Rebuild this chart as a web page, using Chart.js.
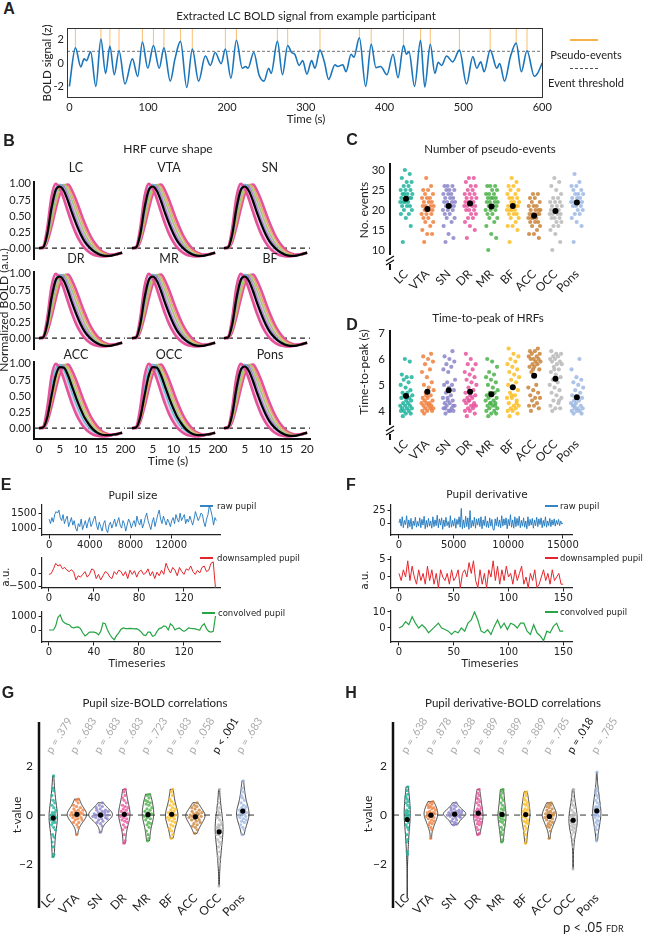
<!DOCTYPE html>
<html><head><meta charset="utf-8"><title>LC BOLD figure</title>
<script src="https://cdn.jsdelivr.net/npm/chart.js@4.4.1/dist/chart.umd.min.js"></script>
<style>
html,body{margin:0;padding:0;background:#fff}
body{position:relative;width:648px;height:937px;overflow:hidden}
canvas{position:absolute}
.t{position:absolute;white-space:nowrap;line-height:1;color:#222}
.seg{position:absolute;height:0}
</style></head><body>
<script>
// ================= DATA =================
const REGIONS = ['LC','VTA','SN','DR','MR','BF','ACC','OCC','Pons'];
const COLORS = ['#1db39c','#f07f3c','#8b85c9','#e8559e','#4cb24a','#fcbd22','#c9843a','#b9b9b9','#9db8e4'];

// Panel A: LC BOLD signal (time in s, z)
const A_TIME = [0,7.7,14.5,18.7,21.7,27,33.6,40,46,51.4,57,63,70.6,80,86.7,92.7,99.5,106.7,114,120,128,134,141,149,156,164,172.5,179,185,192.6,198,205,212,219.4,223.6,226.6,234,240.6,247,253,256,264,270.4,277,282,286,291.6,296,301.4,307.4,311.6,318,323.5,329,337,340.5,347,351,357.5,361,368,376,383,389,395,403,410.7,417,424,427.7,431,438,445.6,451,458,463.8,468,472.3,478.7,486.4,495,504,511.9,517,522,526.3,534,542.5,546,552.2,559.5,567,573.5,580.7,590,594,600];
const A_Z = [-2.0,1.3,-0.33,0.35,0.2,0.95,-2.0,2.05,-0.9,1.45,-1.0,1.05,-1.8,0.35,-1.15,1.8,-0.45,1.5,-0.45,1.3,-1.55,0.35,1.85,-2.1,1.2,-1.55,0.6,-0.2,0.9,-0.05,1.2,-1.3,1.95,-0.45,-0.3,-0.45,0.9,-1.0,-1.55,-0.45,-0.9,1.85,-1.0,1.5,0.9,0.75,-0.2,0.2,-0.95,0.2,-0.45,1.1,0.1,-1.4,-0.15,-0.3,-0.15,-0.75,0.75,0.5,2.15,-2.0,1.6,-0.4,-0.3,-1.0,0.75,-1.25,1.5,0.75,0.95,-2.0,1.95,-2.05,1.6,-0.9,0.05,-0.2,0.6,0.1,1.1,-1.8,0.55,-0.45,0.1,-0.75,1.1,-0.45,-0.05,-1.55,0.5,1.7,-0.75,1.05,-1.15,-0.9,0.0];
const EVENT_TIME = [7.7,40,51.4,63,92.7,106.7,120,141,156,198,212,264,277,318,368,383,424,445.6,458,495,534,567,580.7];
const EVENT_PEAK = [1.3,2.05,1.45,1.05,1.8,1.5,1.3,1.85,1.2,1.2,1.95,1.85,1.5,1.1,2.15,1.6,1.5,1.95,1.6,1.1,1.1,1.7,1.05];
const THRESHOLD = 1;

// Panel B: HRF curves sampled each second
const HRF_T = [0,1,2,3,4,5,6,7,8,9,10,11,12,13,14,15,16,17,18,19,20];
const HRF_EARLY = [0,0.02,0.32,0.80,1.00,0.93,0.76,0.56,0.37,0.21,0.09,0.0,-0.06,-0.10,-0.12,-0.13,-0.13,-0.12,-0.10,-0.09,-0.07];
const HRF_MID_EARLY = [0,0.01,0.22,0.62,0.92,0.99,0.90,0.73,0.54,0.36,0.21,0.09,0.01,-0.05,-0.09,-0.11,-0.12,-0.12,-0.11,-0.09,-0.07];
const HRF_MID = [0,0.01,0.18,0.53,0.85,0.99,0.96,0.82,0.63,0.45,0.29,0.16,0.06,-0.02,-0.07,-0.10,-0.12,-0.12,-0.11,-0.09,-0.07];
const HRF_MID_LATE = [0,0.01,0.15,0.45,0.76,0.95,0.99,0.89,0.73,0.55,0.38,0.23,0.11,0.02,-0.05,-0.09,-0.11,-0.12,-0.11,-0.10,-0.08];
const HRF_LATE_2 = [0,0.0,0.12,0.38,0.67,0.89,0.99,0.95,0.81,0.64,0.47,0.31,0.18,0.07,-0.01,-0.06,-0.09,-0.11,-0.11,-0.10,-0.08];
const HRF_LATE = [0,0.0,0.10,0.33,0.60,0.84,0.97,0.99,0.89,0.74,0.56,0.39,0.24,0.12,0.03,-0.04,-0.08,-0.10,-0.10,-0.09,-0.08];
const HRF_MEAN_A = [0,0.01,0.22,0.62,0.90,0.96,0.89,0.73,0.54,0.37,0.22,0.10,0.02,-0.04,-0.08,-0.11,-0.12,-0.12,-0.11,-0.09,-0.07];
const HRF_MEAN_B = [0,0.01,0.17,0.50,0.81,0.95,0.94,0.82,0.64,0.46,0.30,0.16,0.06,-0.02,-0.07,-0.10,-0.11,-0.11,-0.10,-0.09,-0.07];
const HRF_MEAN_KIND = ['A','A','A','A','A','A','B','B','A'];

// Panel C: number of pseudo-events
const NEV_LC = [12,16,18,19,19,20,20,21,21,21,22,22,22,22,23,23,23,23,24,24,24,24,25,25,25,26,26,27,27,28,29,30];
const NEV_VTA = [12,14,14,15,16,17,17,18,18,19,19,19,20,20,20,20,21,21,21,21,22,22,22,23,23,23,24,24,25,25,26,28];
const NEV_SN = [12,13,14,16,17,18,18,19,19,20,20,20,21,21,21,21,22,22,22,22,23,23,23,24,24,24,25,25,25,26,26,26];
const NEV_DR = [13,15,16,17,18,18,19,19,20,20,20,21,21,21,21,22,22,22,22,23,23,23,24,24,24,25,25,26,26,27,28,28];
const NEV_MR = [10,13,14,16,17,18,18,19,19,20,20,20,21,21,21,21,22,22,22,22,23,23,23,23,24,24,24,25,25,26,26,26];
const NEV_BF = [12,15,16,16,17,18,18,19,19,19,20,20,20,20,21,21,21,21,22,22,22,23,23,23,24,24,25,25,26,26,27,28];
const NEV_ACC = [8,13,14,14,15,16,16,17,17,17,18,18,18,18,19,19,19,19,19,20,20,20,20,21,21,21,22,22,23,23,24,24];
const NEV_OCC = [10,12,14,15,16,16,17,17,18,18,18,19,19,19,19,20,20,20,20,21,21,21,22,22,22,23,23,24,25,26,27,28];
const NEV_PONS = [12,16,17,18,19,19,20,20,21,21,21,22,22,22,22,23,23,23,24,24,24,25,25,26,26,27,29];

// Panel D: time-to-peak (s)
const TTP_LC = [3.8,3.9,3.9,4.0,4.0,4.0,4.1,4.1,4.1,4.2,4.2,4.2,4.3,4.3,4.4,4.4,4.5,4.5,4.6,4.6,4.7,4.7,4.8,4.9,5.0,5.1,5.2,5.3,5.3,5.4,5.9,6.0];
const TTP_VTA = [3.9,4.0,4.0,4.0,4.1,4.1,4.1,4.2,4.2,4.2,4.3,4.3,4.3,4.4,4.4,4.5,4.5,4.6,4.7,4.8,4.9,5.0,5.1,5.3,5.5,5.6,5.8,5.9,6.0,6.1,6.2,4.6];
const TTP_SN = [3.9,4.0,4.0,4.1,4.1,4.2,4.2,4.3,4.3,4.4,4.4,4.5,4.6,4.7,4.8,4.9,5.0,5.0,5.1,5.2,4.0,4.1,4.2,5.5,5.6,5.7,5.8,5.9,6.0,6.1,6.3,4.5];
const TTP_DR = [3.8,3.9,4.0,4.0,4.1,4.1,4.2,4.2,4.3,4.3,4.4,4.4,4.5,4.5,4.6,4.6,4.7,4.8,4.9,5.0,5.1,5.2,5.3,5.4,5.5,5.6,5.8,5.8,6.0,6.2,4.2,4.4];
const TTP_MR = [3.8,3.9,3.9,4.0,4.0,4.1,4.1,4.2,4.2,4.3,4.3,4.4,4.4,4.5,4.5,4.6,4.6,4.7,4.7,4.8,4.9,5.0,5.1,5.2,5.3,5.4,5.5,5.7,5.9,6.0,4.2,4.3];
const TTP_BF = [3.8,3.9,4.0,4.0,4.1,4.1,4.2,4.2,4.3,4.4,4.5,4.5,4.6,4.7,4.8,4.9,5.0,5.1,5.2,5.3,5.4,5.5,5.6,5.7,5.8,5.9,6.0,6.1,6.2,6.4,4.3,4.6];
const TTP_ACC = [4.0,4.1,4.2,4.2,4.3,4.4,4.5,4.5,4.6,4.7,4.8,4.9,5.0,5.5,5.6,5.7,5.7,5.8,5.8,5.9,5.9,6.0,6.0,6.0,6.1,6.1,6.2,6.2,6.3,6.3,6.4,5.6];
const TTP_OCC = [4.0,4.1,4.1,4.2,4.3,4.4,4.5,4.6,4.7,4.8,4.9,5.0,5.1,5.2,5.3,5.4,5.5,5.6,5.7,5.8,5.8,5.9,5.9,6.0,6.0,6.1,6.1,6.2,6.2,6.3,4.4,5.6];
const TTP_PONS = [3.9,3.9,4.0,4.0,4.0,4.1,4.1,4.1,4.2,4.2,4.3,4.3,4.4,4.4,4.5,4.5,4.6,4.7,4.8,4.9,5.0,5.1,5.2,5.3,5.6,6.0,4.2];

// Panel E: pupil size
const E_RAW_STEP = 137;
const E_RAW = [1300,1150,1350,1200,1450,1550,1500,1600,1350,1250,1450,1150,1300,1400,1050,1200,1350,1100,1250,1000,900,1150,1050,1300,950,1100,1250,1000,1200,1350,1050,1150,1300,1400,1100,950,1200,1050,900,1150,1250,950,850,1100,1200,1000,1150,1300,1050,1200,1350,1100,1000,1250,1150,900,1100,1300,1200,1000,1150,1250,1050,1400,1200,1100,1300,1000,1150,1350,1500,1250,1100,950,1200,1350,1050,1250,1450,1600,1300,1150,1400,1250,1100,1300,1200,1050,1250,1350,1150,1450,1300,1200,1500,1250,1350,1450,1150,1300,1200,1400,1250,1100,1300,1550,1400,1250,1350,1500,1450,1200,1050,1300,1450,1750,1600,1400,1100,1350,1250];
const E_DOWN = [-50,-20,150,350,250,300,150,200,100,50,120,30,-250,-100,-150,-50,50,-150,-50,150,100,-200,-50,-250,-100,50,0,-150,-200,50,-50,100,50,-100,50,-200,100,-50,80,-150,50,100,-50,0,150,-100,50,-200,30,-100,100,-50,350,150,0,200,100,-100,200,50,-50,150,100,250,50,-50,100,0,200,250,50,100,350,400,-550];
const E_CONV = [0,0,0,300,900,1080,650,500,420,380,200,150,200,220,100,-200,-420,-300,-150,-150,-150,-200,-350,-100,500,450,0,-300,-550,-700,-400,-200,50,150,100,100,120,100,80,100,0,-150,-350,-400,-150,-150,-450,-400,-100,100,150,300,250,0,450,300,0,100,150,0,-100,0,150,120,100,80,30,0,300,450,100,-100,-150,-100,1000];
const E_DS_STEP = 2;

// Panel F: pupil derivative
const F_RAW_STEP = 100;
const F_RAW = [0,8,-6,12,-9,5,-3,14,-10,6,-7,9,-12,4,-5,11,-8,3,-6,10,-9,7,-4,13,-11,5,-8,9,-6,4,-10,12,-7,6,-5,15,-9,8,-4,10,-12,6,-7,11,-5,3,-9,14,-8,5,-6,9,-10,7,-3,12,-8,28,-11,6,-9,13,-7,10,-12,24,-9,5,-6,11,-10,8,-4,9,-7,12,-11,6,-5,13,-8,4,-9,10,-6,7,-12,-14,8,-5,11,-7,6,-9,14,-6,8,-4,10,-11,7,-5,16,-8,6,-10,12,-7,9,-5,13,-9,5,-6,10,-8,4,-11,12,-6,7,-4,9,-10,6,-5,11,-7,8,-3,10,-9,5,-6,12,-8,4,-5,9,-7,6,-4,8,-6,5,-3,7,-5,4,-2,0];
const F_DOWN = [1,-1,2,0,4.5,-1,3,0,-2,2,-1,1,-2,3,-1,2,-2,1,-3,2,0,-1,1,-2,2,-1,0,2,-3,1,2,0,4,1,4.5,-1,-3,2,-2,1,-3,2,0,4.5,-1,3,-2,2,-1,3,0,1,-2,2,-1,1,3,-2,0,-3,1,-1,2,-3,-2,0,2,-1,1,-2,2,-1,0,1,-2,-2];
const F_DS_STEP = 2;
const F_CONV = [0,1,4,2,7,3,0,2,0,-3,-1,1,3,0,-1,-2,-4,-2,-3,0,-2,3,5,10,5,-2,-3,-1,-4,1,5,0,3,-1,3,2,0,3,3,-2,-4,2,-3,-5,-8,-2,-3,1,3,-2,-2];
const F_CONV_STEP = 3;

// Panel G: pupil size-BOLD t-values
const TS_LC = [-1.7,-1.6,-1.3,-1.1,-0.9,-0.8,-0.6,-0.5,-0.4,-0.3,-0.3,-0.2,-0.2,-0.1,-0.1,0.0,0.0,0.1,0.1,0.2,0.3,0.4,0.5,0.6,0.8,1.0,1.1,1.6];
const TS_VTA = [-0.8,-0.5,-0.4,-0.3,-0.3,-0.2,-0.2,-0.15,-0.1,-0.1,-0.05,0,0,0,0.05,0.05,0.1,0.1,0.15,0.2,0.2,0.25,0.3,0.35,0.4,0.5,0.6,0.65];
const TS_SN = [-0.7,-0.45,-0.35,-0.3,-0.25,-0.2,-0.15,-0.15,-0.1,-0.1,-0.05,-0.05,0,0,0,0.05,0.05,0.1,0.1,0.15,0.15,0.2,0.2,0.25,0.3,0.35,0.4,0.5];
const TS_DR = [-1.15,-1.05,-0.8,-0.6,-0.5,-0.4,-0.3,-0.25,-0.2,-0.15,-0.1,-0.05,0,0,0.05,0.1,0.15,0.2,0.25,0.3,0.35,0.4,0.5,0.6,0.7,0.8,0.95,1.05];
const TS_MR = [-1.05,-0.95,-0.8,-0.65,-0.5,-0.4,-0.35,-0.3,-0.2,-0.15,-0.1,-0.05,0,0,0.05,0.1,0.15,0.2,0.25,0.3,0.4,0.45,0.5,0.55,0.6,0.7,0.8,0.85];
const TS_BF = [-0.95,-0.8,-0.65,-0.55,-0.45,-0.4,-0.3,-0.25,-0.2,-0.15,-0.1,-0.1,-0.05,0,0,0.05,0.1,0.15,0.2,0.25,0.3,0.4,0.45,0.55,0.65,0.8,0.95,1.05];
const TS_ACC = [-0.75,-0.6,-0.5,-0.45,-0.4,-0.35,-0.3,-0.25,-0.2,-0.2,-0.15,-0.1,-0.1,-0.05,-0.05,0,0,0.05,0.05,0.1,0.1,0.15,0.2,0.25,0.3,0.35,0.4,0.5];
const TS_OCC = [-2.9,-2.0,-1.8,-1.7,-1.5,-1.3,-1.2,-1.1,-1.0,-0.9,-0.8,-0.8,-0.7,-0.6,-0.6,-0.5,-0.5,-0.4,-0.4,-0.3,-0.2,-0.1,0,0.1,0.2,0.3,0.5,1.05];
const TS_PONS = [-0.8,-0.6,-0.5,-0.4,-0.3,-0.25,-0.2,-0.15,-0.1,-0.05,0,0,0.05,0.1,0.1,0.15,0.2,0.25,0.3,0.35,0.4,0.5,0.6,0.7,0.8,0.95,1.1,1.4];
const P_SIZE = ['p = .379','p = .683','p = .683','p = .683','p = .723','p = .683','p = .058','p < .001','p = .683'];
const P_SIZE_SIG = [false,false,false,false,false,false,false,true,false];

// Panel H: pupil derivative-BOLD t-values
const TD_LC = [-3.4,-1.6,-1.5,-1.1,-1.0,-0.8,-0.6,-0.5,-0.4,-0.3,-0.2,-0.15,-0.1,-0.05,0,0.05,0.1,0.15,0.2,0.3,0.4,0.5,0.55,0.65,0.75,0.85,1.0,1.15];
const TD_VTA = [-0.95,-0.6,-0.5,-0.4,-0.35,-0.3,-0.25,-0.2,-0.15,-0.1,-0.05,-0.05,0,0,0.05,0.05,0.1,0.1,0.15,0.2,0.25,0.3,0.3,0.35,0.4,0.45,0.5,0.55];
const TD_SN = [-0.4,-0.35,-0.3,-0.25,-0.2,-0.15,-0.1,-0.1,-0.05,-0.05,0,0,0,0.05,0.05,0.05,0.1,0.1,0.1,0.15,0.15,0.2,0.2,0.25,0.3,0.35,0.4,0.5];
const TD_DR = [-0.8,-0.75,-0.6,-0.5,-0.4,-0.35,-0.3,-0.25,-0.2,-0.15,-0.1,-0.05,0,0,0.05,0.1,0.15,0.2,0.25,0.3,0.4,0.5,0.55,0.65,0.7,0.8,0.9,1.05];
const TD_MR = [-1.1,-1.0,-0.8,-0.7,-0.6,-0.5,-0.4,-0.3,-0.25,-0.2,-0.15,-0.1,-0.05,0,0,0.05,0.1,0.2,0.25,0.3,0.4,0.5,0.6,0.7,0.8,0.9,1.0,1.05];
const TD_BF = [-1.15,-1.0,-0.8,-0.65,-0.55,-0.45,-0.35,-0.3,-0.25,-0.2,-0.1,-0.05,0,0,0.05,0.1,0.15,0.2,0.25,0.3,0.4,0.45,0.5,0.6,0.7,0.8,0.9,0.95];
const TD_ACC = [-0.95,-0.65,-0.5,-0.45,-0.4,-0.35,-0.3,-0.25,-0.2,-0.15,-0.1,-0.1,-0.05,-0.05,0,0,0.05,0.05,0.1,0.1,0.15,0.2,0.25,0.3,0.35,0.4,0.45,0.5];
const TD_OCC = [-2.2,-1.3,-1.0,-0.8,-0.7,-0.6,-0.55,-0.5,-0.45,-0.4,-0.35,-0.3,-0.25,-0.2,-0.15,-0.1,-0.05,0,0,0.05,0.1,0.2,0.3,0.4,0.5,0.6,0.75,1.05];
const TD_PONS = [-1.05,-0.8,-0.6,-0.5,-0.4,-0.3,-0.25,-0.2,-0.1,-0.05,0,0,0.05,0.1,0.15,0.2,0.25,0.3,0.35,0.4,0.5,0.6,0.7,0.8,0.9,1.0,1.1,1.75];
const P_DERIV = ['p = .638','p = .878','p = .638','p = .889','p = .889','p = .889','p = .785','p = .018','p = .785'];
const P_DERIV_SIG = [false,false,false,false,false,false,false,true,false];

// tables built from the arrays
const NEV = [NEV_LC,NEV_VTA,NEV_SN,NEV_DR,NEV_MR,NEV_BF,NEV_ACC,NEV_OCC,NEV_PONS];
const TTP = [TTP_LC,TTP_VTA,TTP_SN,TTP_DR,TTP_MR,TTP_BF,TTP_ACC,TTP_OCC,TTP_PONS];
const TSIZE = [TS_LC,TS_VTA,TS_SN,TS_DR,TS_MR,TS_BF,TS_ACC,TS_OCC,TS_PONS];
const TDER = [TD_LC,TD_VTA,TD_SN,TD_DR,TD_MR,TD_BF,TD_ACC,TD_OCC,TD_PONS];

// ================= HELPERS =================
const MY = 'Lato, "Open Sans", sans-serif';
const DJ = '"DejaVu Sans", sans-serif';
Chart.defaults.font.family = MY;
Chart.defaults.font.size = 11;
Chart.defaults.color = '#222';

function hexA(h,a){const n=parseInt(h.slice(1),16);return `rgba(${n>>16},${(n>>8)&255},${n&255},${a})`;}
const mean = a => a.reduce((s,v)=>s+v,0)/a.length;
const jit = j => ((j*0.6180339887+0.25)%1)*2-1;
const fmtM = v => v<0 ? '\u2212'+Math.abs(v) : String(v);

function T(s,x,y,o={}){
  const d=document.createElement('div');d.className='t';d.textContent=s;
  d.style.left=x+'px';d.style.top=y+'px';d.style.fontSize=(o.size||11.5)+'px';d.style.fontFamily=o.font||MY;
  if(o.color)d.style.color=o.color; if(o.bold)d.style.fontWeight='700';
  const a=o.anchor||'c';
  if(a==='l' && o.rot!=null){d.style.transformOrigin='0 50%';d.style.transform=`translate(0,-50%) rotate(${o.rot}deg)`;}
  else{const tx=a==='c'?'-50%':a==='l'?'0':'-100%';d.style.transform=`translate(${tx},-50%)`+(o.rot!=null?` rotate(${o.rot}deg)`:'');}
  document.body.appendChild(d);return d;
}
function seg(x1,x2,y,color,dashed){
  const d=document.createElement('div');d.className='seg';
  Object.assign(d.style,{left:x1+'px',top:(y-1)+'px',width:(x2-x1)+'px',borderTop:dashed?`1px dashed ${color}`:`2px solid ${color}`});
  document.body.appendChild(d);
}
function S(min,max,ticks,o={}){
  return {type:'linear',min,max,
    afterBuildTicks:s=>{s.ticks=ticks.map(v=>({value:v}));},
    ticks:{display:o.labels!==false,autoSkip:false,maxRotation:o.rot||0,minRotation:o.rot||0,padding:o.pad??3,
      font:{family:o.font||MY,size:o.size||11},color:'#222',callback:o.fmt||(v=>String(v))},
    grid:{display:!!o.tick,drawOnChartArea:false,drawTicks:!!o.tick,tickLength:o.tick||0,color:o.lc||'#222',lineWidth:o.lw||1},
    border:{display:!!o.border,color:o.lc||'#222',width:o.border||1}};
}
function mk(rect,M,datasets,xs,ys,plugins=[]){
  const c=document.createElement('canvas');
  const w=rect[2]-rect[0]+M.L+M.R, h=rect[3]-rect[1]+M.T+M.B;
  c.width=w;c.height=h;
  Object.assign(c.style,{left:(rect[0]-M.L)+'px',top:(rect[1]-M.T)+'px',width:w+'px',height:h+'px'});
  document.body.appendChild(c);
  xs.afterFit=s=>{s.height=M.B;s.paddingLeft=0;s.paddingRight=0;s.paddingTop=0;s.paddingBottom=0;};
  ys.afterFit=s=>{s.width=M.L;s.paddingLeft=0;s.paddingRight=0;s.paddingTop=0;s.paddingBottom=0;};
  return new Chart(c,{type:'scatter',data:{datasets},options:{responsive:false,animation:false,devicePixelRatio:1,
    layout:{padding:{top:M.T,right:M.R,left:0,bottom:0}},
    plugins:{legend:{display:false},tooltip:{enabled:false}},
    scales:{x:xs,y:ys}}, plugins});
}
const line = (data,color,w,extra={}) => Object.assign({data,showLine:true,borderColor:color,borderWidth:w,pointRadius:0,fill:false},extra);

// ================= PANEL A =================
const boxPlugin={id:'box',afterDatasetsDraw(ch){const {ctx,chartArea:a}=ch;ctx.save();ctx.strokeStyle='#333';ctx.lineWidth=1;ctx.strokeRect(a.left+0.5,a.top+0.5,a.right-a.left-1,a.bottom-a.top-1);ctx.restore();}};
mk([67,28,543,98],{L:40,T:10,R:14,B:16},
  [line(A_TIME.map((t,i)=>({x:t,y:A_Z[i]})),'#1b75bb',1.6,{cubicInterpolationMode:'monotone'}),
   line([{x:-3,y:THRESHOLD},{x:601,y:THRESHOLD}],'#666',0.9,{borderDash:[3,2]}),
   ...EVENT_TIME.map((t,i)=>line([{x:t,y:EVENT_PEAK[i]},{x:t,y:3}],'#f9c47f',1.1))],
  S(-3,601,[0,100,200,300,400,500,600],{size:11}),
  S(-3,3,[-2,0,2],{size:11}),[boxPlugin]);
T('A',9,9,{bold:true,size:16,font:'"Liberation Sans", Arial, sans-serif'});
T('Extracted LC BOLD signal from example participant',306,16,{size:11.5});
T('BOLD signal (z)',47,63,{size:11.5,rot:-90});
T('Time (s)',306,119,{size:11.5});
seg(570,598,40,'#f7b24a');
T('Pseudo-events',586,54,{size:11});
seg(570,598,69,'#555',true);
T('Event threshold',586,82,{size:11});

// ================= PANEL B =================
const BCOLS=[[34,125],[127,218],[219,310]];
const BROWS=[[182,259],[272,349],[362,439]];
const BTITLE_X=[76,169,270], BTITLE_Y=[168,259,355];
REGIONS.forEach((name,k)=>{
  const col=k%3,row=(k/3)|0;
  const rect=[BCOLS[col][0],BROWS[row][0],BCOLS[col][1],BROWS[row][1]];
  const M={L:col===0?34:2,T:8,R:4,B:row===2?22:6};
  const pts=a=>HRF_T.map((t,i)=>({x:t,y:a[i]}));
  const cm={cubicInterpolationMode:'monotone'};
  const meanCurve = HRF_MEAN_KIND[k]==='A'?HRF_MEAN_A:HRF_MEAN_B;
  const ds=[
    line(pts(meanCurve),'#000',2.2,cm),
    line(pts(HRF_EARLY),'#e4529a',2.6,cm),
    line(pts(HRF_MID_EARLY),'#5fc2d8',1.4,cm),
    line(pts(HRF_MID),'#a886d9',1.4,cm),
    line(pts(HRF_MID_LATE),'#92cf73',1.4,cm),
    line(pts(HRF_LATE_2),'#e9a95c',1.4,cm),
    line(pts(HRF_LATE),'#e4529a',2.6,Object.assign({fill:1,backgroundColor:'rgba(222,120,196,0.42)'},cm)),
    line([{x:-1.2,y:0},{x:20.7,y:0}],'#222',1.2,{borderDash:[5,4]})
  ];
  mk(rect,M,ds,
    S(-1.2,20.7,[0,5,10,15,20],{labels:row===2,border:row===2?2:0,lc:'#111',size:11.5,pad:3}),
    S(-0.17,1.03,[0,0.25,0.5,0.75,1],{labels:col===0,border:col===0?2:0,lc:'#111',size:11,pad:3,fmt:v=>v.toFixed(2)}));
  T(name,BTITLE_X[col],BTITLE_Y[row],{size:12.5});
});
T('B',9,141,{bold:true,size:16,font:'"Liberation Sans", Arial, sans-serif'});
T('HRF curve shape',168,149,{size:12});
T('Normalized BOLD (a.u.)',4,310,{size:12,rot:-90});
T('Time (s)',168,461,{size:12});

// ================= PANELS C, D =================
function brkPlugin(){return {id:'brk',afterDraw(ch){const {ctx,chartArea:a}=ch;ctx.save();ctx.strokeStyle='#111';ctx.lineWidth=2;
  ctx.beginPath();ctx.moveTo(a.left,a.top);ctx.lineTo(a.left,a.bottom);ctx.stroke();
  ctx.lineWidth=1.4;ctx.beginPath();ctx.moveTo(a.left-4,a.bottom+6);ctx.lineTo(a.left+4,a.bottom+1);ctx.moveTo(a.left-4,a.bottom+10);ctx.lineTo(a.left+4,a.bottom+5);ctx.stroke();
  ctx.lineWidth=2;ctx.beginPath();ctx.moveTo(a.left,a.bottom+9);ctx.lineTo(a.left,a.bottom+15);ctx.stroke();ctx.restore();}};}
function stripPanel(rect,sets,ymin,ymax,yt){
  const ds=[{data:sets.map((v,i)=>({x:i,y:mean(v)})),pointRadius:3,backgroundColor:'#000',borderWidth:0}];
  sets.forEach((vals,i)=>ds.push({data:vals.map((v,j)=>({x:i+jit(j)*0.3,y:v})),pointRadius:2.1,backgroundColor:hexA(COLORS[i],0.85),borderWidth:0}));
  mk(rect,{L:30,T:10,R:12,B:42},ds,
    S(-0.75,8.85,[0,1,2,3,4,5,6,7,8],{rot:45,size:12,pad:12,fmt:v=>REGIONS[v]}),
    S(ymin,ymax,yt,{size:11.5,pad:5}),[brkPlugin()]);
}
stripPanel([390,163,595,255],NEV,8.75,31.75,[10,15,20,25,30]);
T('C',352,140,{bold:true,size:16,font:'"Liberation Sans", Arial, sans-serif'});
T('Number of pseudo-events',490,149,{size:11.5});
T('No. events',364,210,{size:12,rot:-90});
stripPanel([390,330,595,425],TTP,3.46,7.115,[4,5,6,7]);
T('D',352,325,{bold:true,size:16,font:'"Liberation Sans", Arial, sans-serif'});
T('Time-to-peak of HRFs',488,318,{size:11.5});
T('Time-to-peak (s)',364,372,{size:12,rot:-90});

// ================= PANELS E, F =================
function pupil(rect,xr,yr,xt,yt,data,color,w){
  mk(rect,{L:40,T:8,R:14,B:16},[line(data,color,w)],
    S(xr[0],xr[1],xt,{font:DJ,size:10,tick:3.5,border:1.2,pad:1}),
    S(yr[0],yr[1],yt,{font:DJ,size:10,tick:3.5,border:1.2,pad:2,fmt:fmtM}));
}
const BLUE='rgba(31,119,190,0.9)', RED='#e3262b', GREEN='#27a545';
pupil([42,505,220,535],[-700,16800],[770,1770],[0,4000,8000,12000],[1000,1500],E_RAW.map((v,i)=>({x:i*E_RAW_STEP,y:v})),BLUE,1);
pupil([42,558,220,588],[-6.2,152],[-540,540],[0,40,80,120],[-500,0],E_DOWN.map((v,i)=>({x:i*E_DS_STEP,y:v})),RED,1);
pupil([42,612,220,642],[-6.2,152],[-857,1286],[0,40,80,120],[0,1000],E_CONV.map((v,i)=>({x:i*E_DS_STEP,y:v})),GREEN,1.2);
pupil([391,505,572,535],[-730,15830],[-23,34.6],[0,5000,10000,15000],[0,25],F_RAW.map((v,i)=>({x:i*F_RAW_STEP,y:v})),BLUE,1);
pupil([391,557,572,588],[-7.3,158],[-3.06,5.56],[0,50,100,150],[0,5],F_DOWN.map((v,i)=>({x:i*F_DS_STEP,y:v})),RED,1);
pupil([391,611,572,642],[-7.3,158],[-8.75,10.6],[0,50,100,150],[0,10],F_CONV.map((v,i)=>({x:i*F_CONV_STEP,y:v})),GREEN,1.2);
T('E',6,485,{bold:true,size:16,font:'"Liberation Sans", Arial, sans-serif'});
T('Pupil size',133,495,{font:DJ,size:10.5});
T('a.u.',6,577,{font:DJ,size:10,rot:-90});
T('Timeseries',137,663,{font:DJ,size:10.5});
T('F',351,485,{bold:true,size:16,font:'"Liberation Sans", Arial, sans-serif'});
T('Pupil derivative',487,494,{font:DJ,size:10.5});
T('a.u.',365,580,{font:DJ,size:10,rot:-90});
T('Timeseries',490,663,{font:DJ,size:10.5});
[[200,213,506,BLUE,'raw pupil',217],[200,213,558,RED,'downsampled pupil',217],[202,215,613,GREEN,'convolved pupil',218],
 [545,558,506,BLUE,'raw pupil',560],[545,558,558,RED,'downsampled pupil',560],[545,558,612,GREEN,'convolved pupil',560]]
 .forEach(([a,b,y,c,s,tx])=>{seg(a,b,y,c);T(s,tx,y,{font:DJ,size:8.5,anchor:'l'});});

// ================= PANELS G, H =================
function kdeStats(vals){
  const n=vals.length,m=mean(vals);
  const sd=Math.sqrt(vals.reduce((a,b)=>a+(b-m)*(b-m),0)/(n-1));
  const bw=sd*Math.pow(n,-0.2);
  const f=y=>{let s=0;for(const v of vals){const z=(y-v)/bw;s+=Math.exp(-0.5*z*z);}return s/(n*bw*Math.sqrt(2*Math.PI));};
  const lo=Math.min(...vals),hi=Math.max(...vals);
  const grid=[];for(let k=0;k<=60;k++){const y=lo+(hi-lo)*k/60;grid.push([y,f(y)]);}
  return {f,grid,mean:m,max:Math.max(...grid.map(g=>g[1]))};
}
function violinPanel(rect,sets,hwMax){
  const st=sets.map(kdeStats);
  const dmax=Math.max(...st.map(s=>s.max));
  const hw=(i,y)=>hwMax*st[i].f(y)/dmax;
  const ds=[{data:st.map((s,i)=>({x:i,y:s.mean})),pointRadius:2.6,backgroundColor:'#000',borderWidth:0,clip:false}];
  sets.forEach((vals,i)=>ds.push({data:vals.map((v,j)=>({x:i+hw(i,v)*jit(j)*0.75,y:v})),pointRadius:1.6,backgroundColor:hexA(COLORS[i],0.8),borderWidth:0,clip:false}));
  ds.push(line([{x:-0.6,y:0},{x:8.6,y:0}],'#333',1,{borderDash:[6,5]}));
  const vio={id:'vio',beforeDatasetsDraw(ch){const {ctx}=ch,xs=ch.scales.x,ys=ch.scales.y;ctx.save();ctx.strokeStyle='#2a2a2a';ctx.lineWidth=0.9;
    st.forEach((s,i)=>{ctx.beginPath();
      s.grid.forEach(([y,d],k)=>{const px=xs.getPixelForValue(i+hwMax*d/dmax),py=ys.getPixelForValue(y);k?ctx.lineTo(px,py):ctx.moveTo(px,py);});
      for(let k=s.grid.length-1;k>=0;k--){const [y,d]=s.grid[k];ctx.lineTo(xs.getPixelForValue(i-hwMax*d/dmax),ys.getPixelForValue(y));}
      ctx.closePath();ctx.stroke();});ctx.restore();}};
  const spine={id:'spine',afterDraw(ch){const {ctx,chartArea:a}=ch;ctx.save();ctx.strokeStyle='#111';ctx.lineWidth=2.5;ctx.beginPath();ctx.moveTo(a.left,a.top);ctx.lineTo(a.left,a.bottom+18);ctx.stroke();ctx.restore();}};
  mk(rect,{L:40,T:6,R:10,B:44},ds,
    S(-0.6,8.6,[0,1,2,3,4,5,6,7,8],{rot:45,size:12,pad:1,fmt:v=>REGIONS[v]}),
    S(-3.06,3.8,[-2,0,2],{size:12,pad:6,fmt:fmtM}),[vio,spine]);
}
violinPanel([39,722,257,890],TSIZE,0.5);
violinPanel([393,722,611,890],TDER,0.47);
T('G',8,693,{bold:true,size:16,font:'"Liberation Sans", Arial, sans-serif'});
T('Pupil size-BOLD correlations',155,703,{size:11.5});
T('t-value',17,815,{size:12,rot:-90});
T('H',351,693,{bold:true,size:16,font:'"Liberation Sans", Arial, sans-serif'});
T('Pupil derivative-BOLD correlations',513,703,{size:11.5});
T('t-value',368,814,{size:12,rot:-90});
REGIONS.forEach((r,i)=>{
  T(P_SIZE[i],53.2+23.7*i-5,752,{size:11,anchor:'l',rot:-58,color:P_SIZE_SIG[i]?'#111':'#aaa'});
  T(P_DERIV[i],407.2+23.7*i-4,752,{size:11,anchor:'l',rot:-58,color:P_DERIV_SIG[i]?'#111':'#aaa'});
});
const fdr=T('p < .05 ',563,927,{size:13,anchor:'l'});
const sp=document.createElement('span');sp.textContent='FDR';sp.style.fontSize='9px';fdr.appendChild(sp);
</script>
</body></html>
